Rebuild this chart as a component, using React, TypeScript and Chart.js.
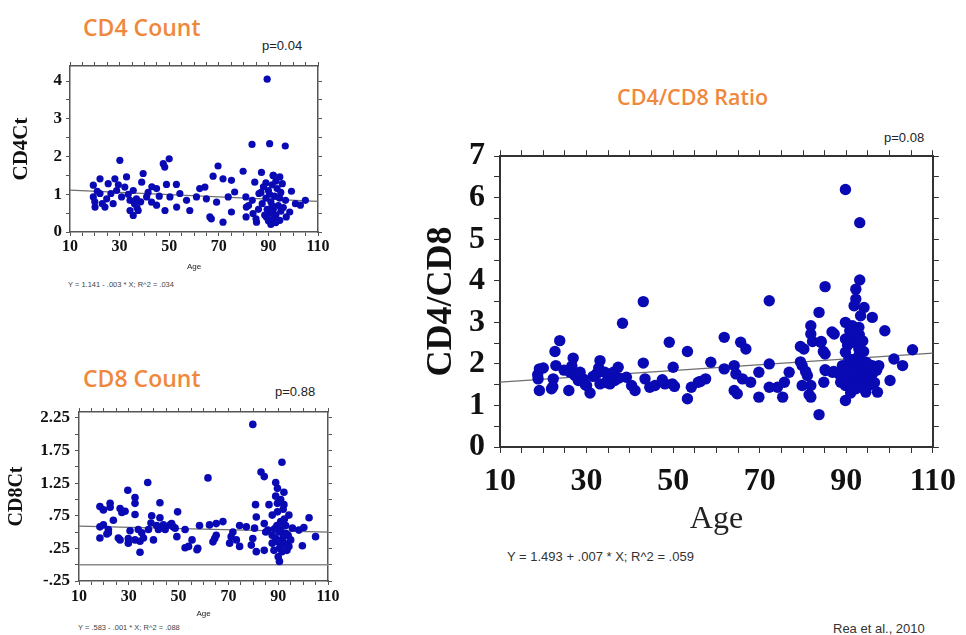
import React, { useEffect, useRef } from "react";
import { Chart, registerables } from "chart.js";
Chart.register(...registerables);

const SERIF = "'Liberation Serif', 'DejaVu Serif', serif";
const SANS = "'Liberation Sans', Arial, sans-serif";
const TITLE_FONT = "'Open Sans', 'Noto Sans', sans-serif";
const POINT_COLOR = "#0a0ab4";
const FIT_COLOR = "#6e6e6e";

// ---------- shared age axis ----------
const ageTicks = [10, 15, 20, 25, 30, 35, 40, 45, 50, 55, 60, 65, 70, 75, 80, 85, 90, 95, 100, 105, 110];
const ageTickLabels = ["10", "", "", "", "30", "", "", "", "50", "", "", "", "70", "", "", "", "90", "", "", "", "110"];

// ---------- CD4 count ----------
const cd4Age = [
  89.5, 83.4, 90.5, 96.8, 30.1, 47.6, 48.2, 50.0, 69.7, 79.8, 87.2, 39.5, 67.7, 22.1, 28.1, 32.8, 38.9, 48.9, 52.9, 71.7,
  75.1, 91.9, 94.6, 95.6, 19.4, 25.4, 32.1, 35.5, 44.9, 62.3, 64.4, 76.4, 84.5, 99.3, 19.4, 22.1, 24.8, 28.8, 30.8, 34.2,
  36.8, 40.9, 42.9, 50.3, 54.3, 57.0, 61.0, 65.0, 69.1, 73.8, 80.9, 83.5, 86.2, 96.9, 100.9, 102.9, 104.9, 20.1, 24.1, 27.4,
  34.2, 35.5, 37.5, 44.9, 48.3, 53.0, 58.3, 66.4, 67.0, 71.7, 75.1, 81.1, 83.8, 85.2, 89.2, 91.9, 94.6, 97.2, 98.6,
  88, 89, 89.5, 90, 90.5, 91, 91.5, 92, 92.5, 93, 93.5, 94, 94.5, 95, 90, 91, 92, 93, 88.5, 87.5, 89, 92, 93, 90.5, 91.5,
  95, 96, 87, 86, 85, 82, 81, 21, 26.5, 29.5, 33.5, 36, 37, 38.5, 41.5, 43, 46, 20, 23,
];
const cd4Count = [
  4.05, 2.32, 2.34, 2.28, 1.90, 1.81, 1.72, 1.94, 1.75, 1.61, 1.58, 1.55, 1.48, 1.41, 1.41, 1.46, 1.32, 1.26, 1.26, 1.41,
  1.37, 1.50, 1.46, 1.28, 1.24, 1.28, 1.19, 1.10, 1.15, 1.15, 1.19, 1.06, 1.32, 1.08, 0.93, 1.02, 0.88, 1.10, 0.93, 0.84,
  0.88, 0.93, 0.79, 0.93, 1.02, 0.84, 0.93, 0.88, 0.79, 0.93, 0.93, 0.84, 1.02, 0.84, 0.75, 0.71, 0.84, 0.66, 0.66, 0.75,
  0.57, 0.44, 0.57, 0.71, 0.57, 0.66, 0.57, 0.40, 0.35, 0.26, 0.53, 0.66, 0.49, 0.26, 0.40, 0.26, 0.31, 0.40, 0.53,
  1.2, 0.9, 0.6, 1.1, 0.5, 0.8, 1.25, 0.6, 0.95, 0.45, 1.15, 0.7, 0.9, 0.55, 0.3, 0.2, 0.35, 0.25, 0.45, 0.75, 1.3, 1.5, 1.35, 1.0, 0.7,
  1.05, 0.65, 1.05, 0.6, 0.35, 0.7, 0.4, 1.08, 1.02, 1.25, 1.0, 0.75, 0.65, 0.8, 1.05, 1.2, 0.95, 0.8, 0.75,
];
const cd4FitAge = [10, 110];
const cd4FitCount = [1.11, 0.81];
const cd4YTicks = [0, 0.5, 1, 1.5, 2, 2.5, 3, 3.5, 4];
const cd4YTickLabels = ["0", "", "1", "", "2", "", "3", "", "4"];

// ---------- CD8 count ----------
const cd8Age = [
  79.8, 91.5, 83.1, 84.4, 61.8, 89.0, 89.7, 92.3, 89.0, 89.7, 80.9, 86.3, 92.3, 89.7, 94.3, 81.2, 102.4, 84.4, 91.0, 58.4,
  62.4, 65.1, 67.8, 74.5, 77.2, 80.5, 85.9, 95.7, 98.3, 100.3, 105.0, 71.8, 65.1, 71.1, 79.8, 73.2, 57.7, 63.8, 64.5, 70.5,
  74.5, 79.2, 81.2, 84.4, 87.6, 89.0, 91.6, 88.3, 91.0, 94.3, 99.7, 90.5, 90.0, 85.0, 90.3, 93.0, 87.6, 93.0, 87.6,
  90, 91, 92, 93, 94, 89.5, 92.5, 90.5, 91.5, 93.5, 95, 88.5, 92, 91,
  37.6, 29.6, 32.5, 32.5, 18.4, 19.8, 22.5, 22.5, 42.5, 26.5, 27.2, 28.5, 23.8, 32.5, 39.2, 42.5, 49.6, 38.9, 47.2, 47.8,
  18.4, 19.8, 21.8, 18.4, 21.8, 25.8, 26.5, 30.5, 29.8, 32.5, 33.8, 35.2, 34.5, 35.9, 34.5, 37.9, 39.9, 41.9, 44.6, 43.9,
  41.2, 46.6, 48.6, 49.3, 52.6, 52.6, 54.0, 55.4, 57.4, 29.8, 21.2,
];
const cd8Count = [
  2.15, 1.57, 1.42, 1.35, 1.33, 1.26, 1.17, 1.11, 1.05, 0.94, 0.92, 0.92, 0.92, 0.81, 0.76, 0.73, 0.72, 0.63, 0.66, 0.60,
  0.61, 0.63, 0.66, 0.60, 0.58, 0.56, 0.53, 0.56, 0.53, 0.57, 0.43, 0.50, 0.45, 0.43, 0.40, 0.38, 0.25, 0.35, 0.40, 0.33,
  0.28, 0.30, 0.20, 0.22, 0.33, 0.40, 0.38, 0.22, 0.28, 0.28, 0.29, 0.05, 0.12, 0.50, 0.50, 0.48, 0.45, 0.60, 0.76,
  0.35, 0.55, 0.42, 0.32, 0.45, 0.6, 0.7, 0.25, 0.2, 0.22, 0.38, 0.55, 0.85, 1.0,
  1.26, 1.14, 1.03, 0.94, 0.89, 0.84, 0.94, 0.88, 0.95, 0.86, 0.80, 0.82, 0.68, 0.77, 0.75, 0.72, 0.81, 0.64, 0.63, 0.58,
  0.58, 0.61, 0.54, 0.41, 0.49, 0.41, 0.38, 0.52, 0.40, 0.38, 0.54, 0.49, 0.36, 0.41, 0.19, 0.54, 0.38, 0.54, 0.54, 0.61,
  0.60, 0.61, 0.56, 0.43, 0.54, 0.26, 0.28, 0.38, 0.23, 0.33, 0.47,
];
const cd8FitAge = [10, 110];
const cd8FitCount = [0.59, 0.50];
const cd8ZeroAge = [10, 110];
const cd8ZeroCount = [0, 0];
const cd8YTicks = [-0.25, 0, 0.25, 0.5, 0.75, 1, 1.25, 1.5, 1.75, 2, 2.25];
const cd8YTickLabels = ["-.25", "", ".25", "", ".75", "", "1.25", "", "1.75", "", "2.25"];

// ---------- CD4/CD8 ratio ----------
const ratioAge = [
  19.1, 20.0, 18.8, 19.1, 21.9, 22.3, 22.9, 22.7, 23.8, 25.9, 26.9, 26.2, 27.3, 28.1, 29.2, 30.0, 30.8, 33.1, 32.3, 33.1,
  34.2, 35.0, 35.4, 36.2, 37.3, 38.3, 39.2, 40.4, 41.2, 43.1, 43.1, 43.5, 44.6, 45.8, 48.1, 49.1, 50.0, 49.8, 53.3, 53.3,
  54.2, 55.8, 31.5, 32.8, 34.5, 36.5, 28.5, 24.8, 26.6, 18.7, 22.2, 29.7, 37.5, 47.5, 50.3,
  57.5, 58.7, 61.8, 61.8, 64.1, 64.5, 65.6, 66.8, 66.0, 67.9, 64.1, 64.8, 69.8, 69.8, 72.2, 72.2, 72.2, 74.1, 75.3, 75.7,
  76.8, 79.8, 79.8, 80.2, 81.0, 81.8, 81.8, 81.8, 81.8, 83.7, 83.7, 84.1, 85.1, 85.1, 84.8, 85.2, 86.8, 87.2, 88.7, 88.3,
  89.1, 89.8, 93.1, 93.1, 92.2, 92.2, 91.8, 94.1, 93.3, 96.0, 89.8, 91.4, 92.9, 98.9, 89.8, 91.4, 92.9, 89.8, 90.6, 92.9,
  94.5, 96.0, 101.0, 103.0, 91.4, 93.7, 90.6, 92.9, 95.2, 97.5, 100.1, 89.8, 92.2, 94.5, 97.2, 89.8, 105.3,
  90.5, 91, 91.5, 92, 92.5, 93, 93.5, 94, 94.5, 95, 95.5, 96, 91, 92, 93, 94, 90, 90.3, 91.8, 92.5, 94.8, 96.5, 97, 90.8, 93.8,
  79.4, 79.4, 80.6, 81.4, 82.2, 84.2, 84.7, 85.1, 86.7, 87.1, 56.3,
];
const ratioValue = [
  1.88, 1.90, 1.64, 1.36, 1.40, 1.64, 1.96, 2.30, 2.56, 1.36, 2.14, 1.80, 1.72, 1.60, 1.64, 1.48, 1.30, 2.08, 1.76, 1.52,
  1.80, 1.64, 1.52, 1.80, 1.92, 2.98, 1.68, 1.48, 1.36, 3.50, 2.02, 1.64, 1.44, 1.48, 1.52, 2.52, 1.92, 1.52, 2.30, 1.16,
  1.44, 1.56, 1.70, 1.90, 1.55, 1.60, 1.80, 1.85, 1.95, 1.74, 1.45, 1.50, 1.66, 1.62, 1.46,
  1.64, 2.04, 2.64, 1.88, 1.96, 1.76, 2.52, 2.36, 1.64, 1.56, 1.36, 1.28, 1.20, 1.80, 3.52, 2.00, 1.44, 1.44, 1.20, 1.56,
  1.80, 1.96, 1.48, 2.36, 1.72, 2.92, 2.72, 1.48, 1.20, 3.24, 0.78, 2.52, 3.86, 2.24, 1.56, 1.84, 1.80, 2.72, 1.56, 1.76,
  1.96, 6.20, 5.40, 4.02, 3.80, 3.56, 3.40, 3.36, 3.16, 3.12, 3.00, 2.92, 2.88, 2.80, 2.60, 2.52, 2.36, 2.28, 2.12, 2.20,
  2.04, 1.96, 2.12, 1.96, 1.88, 1.80, 1.68, 1.64, 1.64, 1.96, 1.60, 1.48, 1.40, 1.32, 1.32, 1.12, 2.34,
  1.6, 1.9, 2.1, 1.75, 2.0, 1.5, 1.95, 1.7, 1.85, 2.0, 1.5, 1.75, 1.3, 2.6, 2.7, 2.3, 1.85, 2.45, 1.55, 1.45, 1.45, 1.55, 1.85, 2.8, 2.55,
  2.42, 2.05, 1.82, 1.26, 2.54, 2.54, 2.30, 1.86, 2.77, 1.82, 1.58,
];
const ratioFitAge = [10, 110];
const ratioFitValue = [1.56, 2.26];
const ratioYTicks = [0, 0.5, 1, 1.5, 2, 2.5, 3, 3.5, 4, 4.5, 5, 5.5, 6, 6.5, 7];
const ratioYTickLabels = ["0", "", "1", "", "2", "", "3", "", "4", "", "5", "", "6", "", "7"];

const pts = (xs: number[], ys: number[]) => xs.map((x, i) => ({ x, y: ys[i] }));

type PanelProps = {
  left: number; top: number; width: number; height: number;
  ages: number[]; vals: number[]; fitAges: number[]; fitVals: number[];
  zeroAges?: number[]; zeroVals?: number[];
  yMin: number; yMax: number; yTicks: number[]; yLabels: string[];
  leftW: number; rightW: number; topH: number; bottomH: number;
  tickSize: number; xTickSize: number; tickLen: number; yPad: number; xPad: number;
  yTitle: string; yTitleSize: number; yTitlePad: number;
  xTitleSize: number; xTitlePad: number; xTitleSans: boolean;
  pointR: number; frameColor: string; frameW: number;
};

function Panel(p: PanelProps) {
  const ref = useRef<HTMLCanvasElement>(null);
  useEffect(() => {
    const setTicks = (vals: number[]) => (scale: any) => {
      scale.ticks = vals.map((v) => ({ value: v }));
    };
    const grid = { display: true, drawOnChartArea: false, drawTicks: true, tickLength: p.tickLen, color: p.frameColor, lineWidth: 1 };
    const border = { display: true, color: p.frameColor, width: p.frameW };
    const datasets: any[] = [
      {
        type: "scatter", data: pts(p.ages, p.vals), backgroundColor: POINT_COLOR, borderWidth: 0,
        pointRadius: p.pointR, order: 1,
      },
      {
        type: "line", data: pts(p.fitAges, p.fitVals), borderColor: FIT_COLOR, borderWidth: 1.2,
        pointRadius: 0, fill: false, order: 3,
      },
    ];
    if (p.zeroAges && p.zeroVals) {
      datasets.push({
        type: "line", data: pts(p.zeroAges, p.zeroVals), borderColor: "#8a8a8a", borderWidth: 1.5,
        pointRadius: 0, fill: false, order: 2,
      });
    }
    const chart = new Chart(ref.current as HTMLCanvasElement, {
      type: "scatter",
      data: { datasets },
      options: {
        responsive: false,
        animation: false,
        events: [],
        layout: { padding: 0 },
        plugins: { legend: { display: false }, tooltip: { enabled: false } },
        scales: {
          x: {
            type: "linear", position: "bottom", min: 10, max: 110,
            afterBuildTicks: setTicks(ageTicks),
            afterFit: (s: any) => { s.height = p.bottomH; },
            ticks: {
              autoSkip: false, maxRotation: 0, minRotation: 0, padding: p.xPad, color: "#111",
              font: { family: SERIF, size: p.xTickSize, weight: "bold" },
              callback: (_v: any, i: number) => ageTickLabels[i],
            },
            grid, border,
            title: {
              display: true, text: "Age", color: "#222",
              font: { family: p.xTitleSans ? SANS : SERIF, size: p.xTitleSize },
              padding: { top: 0, bottom: p.xTitlePad },
            },
          },
          x2: {
            type: "linear", position: "top", min: 10, max: 110,
            afterBuildTicks: setTicks(ageTicks),
            afterFit: (s: any) => { s.height = p.topH; },
            ticks: { display: false, autoSkip: false },
            grid, border,
          },
          y: {
            type: "linear", position: "left", min: p.yMin, max: p.yMax,
            afterBuildTicks: setTicks(p.yTicks),
            afterFit: (s: any) => { s.width = p.leftW; },
            ticks: {
              autoSkip: false, padding: p.yPad, color: "#111",
              font: { family: SERIF, size: p.tickSize, weight: "bold" },
              callback: (_v: any, i: number) => p.yLabels[i],
            },
            grid, border,
            title: {
              display: true, text: p.yTitle, color: "#111",
              font: { family: SERIF, size: p.yTitleSize, weight: "bold" },
              padding: { top: p.yTitlePad, bottom: 0 },
            },
          },
          y2: {
            type: "linear", position: "right", min: p.yMin, max: p.yMax,
            afterBuildTicks: setTicks(p.yTicks),
            afterFit: (s: any) => { s.width = p.rightW; },
            ticks: { display: false, autoSkip: false },
            grid, border,
          },
        },
      } as any,
    });
    return () => chart.destroy();
  }, []);
  return (
    <canvas
      ref={ref}
      width={p.width}
      height={p.height}
      style={{ position: "absolute", left: p.left, top: p.top, width: p.width, height: p.height }}
    />
  );
}

const txt = (left: number, cy: number, size: number, family: string, color: string, weight = 400): React.CSSProperties => ({
  position: "absolute", left, top: cy - size / 2, fontSize: size, lineHeight: `${size}px`, fontFamily: family,
  color, fontWeight: weight, whiteSpace: "nowrap",
});

export default function App() {
  return (
    <div style={{ position: "absolute", left: 0, top: 0, width: 966, height: 635, background: "#fff", overflow: "hidden" }}>
      <div style={txt(83, 27, 23, TITLE_FONT, "#f0883c", 600)}>CD4 Count</div>
      <div style={txt(262, 45, 13, SANS, "#222")}>p=0.04</div>
      <Panel
        left={0} top={44} width={340} height={232}
        ages={cd4Age} vals={cd4Count} fitAges={cd4FitAge} fitVals={cd4FitCount}
        yMin={0} yMax={4.4} yTicks={cd4YTicks} yLabels={cd4YTickLabels}
        leftW={70} rightW={22} topH={22} bottomH={44}
        tickSize={17} xTickSize={16} tickLen={4} yPad={4} xPad={1}
        yTitle="CD4Ct" yTitleSize={21} yTitlePad={9}
        xTitleSize={8} xTitlePad={4} xTitleSans={true}
        pointR={3.6} frameColor="#555" frameW={1.5}
      />
      <div style={txt(68, 285, 7.5, SANS, "#444")}>Y = 1.141 - .003 * X; R^2 = .034</div>

      <div style={txt(83, 378, 23, TITLE_FONT, "#f0883c", 600)}>CD8 Count</div>
      <div style={txt(275, 391, 13, SANS, "#222")}>p=0.88</div>
      <Panel
        left={0} top={390} width={350} height={232}
        ages={cd8Age} vals={cd8Count} fitAges={cd8FitAge} fitVals={cd8FitCount}
        zeroAges={cd8ZeroAge} zeroVals={cd8ZeroCount}
        yMin={-0.25} yMax={2.34} yTicks={cd8YTicks} yLabels={cd8YTickLabels}
        leftW={79} rightW={22} topH={22} bottomH={41}
        tickSize={17} xTickSize={16} tickLen={4} yPad={5} xPad={2}
        yTitle="CD8Ct" yTitleSize={20} yTitlePad={5}
        xTitleSize={8} xTitlePad={3} xTitleSans={true}
        pointR={3.8} frameColor="#555" frameW={1.5}
      />
      <div style={txt(78, 628, 7.5, SANS, "#444")}>Y = .583 - .001 * X; R^2 = .088</div>

      <div style={txt(617, 97, 21.5, TITLE_FONT, "#f0883c", 600)}>CD4/CD8 Ratio</div>
      <div style={txt(884, 137, 13, SANS, "#222")}>p=0.08</div>
      <Panel
        left={410} top={128} width={556} height={417}
        ages={ratioAge} vals={ratioValue} fitAges={ratioFitAge} fitVals={ratioFitValue}
        yMin={0} yMax={7} yTicks={ratioYTicks} yLabels={ratioYTickLabels}
        leftW={90} rightW={26} topH={25} bottomH={98}
        tickSize={32} xTickSize={32} tickLen={6} yPad={9} xPad={10}
        yTitle="CD4/CD8" yTitleSize={36} yTitlePad={10}
        xTitleSize={32} xTitlePad={6} xTitleSans={false}
        pointR={5.7} frameColor="#333" frameW={2}
      />
      <div style={txt(507, 556, 13, SANS, "#333")}>Y = 1.493 + .007 * X; R^2 = .059</div>
      <div style={txt(833, 628, 13, SANS, "#333")}>Rea et al., 2010</div>
    </div>
  );
}
